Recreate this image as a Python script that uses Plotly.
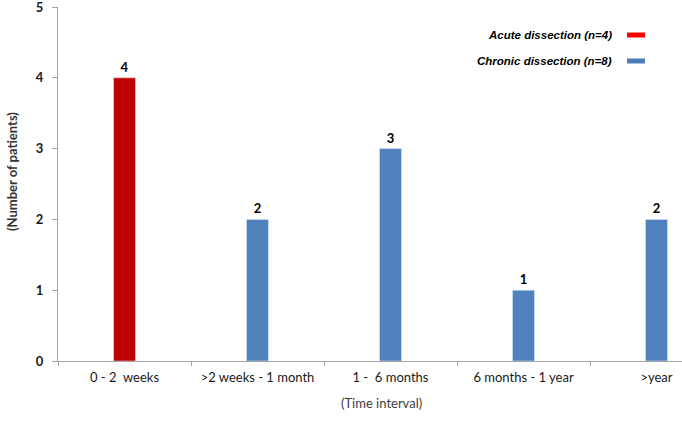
import plotly.graph_objects as go

categories = ["0 - 2  weeks", ">2 weeks - 1 month", "1 -  6 months", "6 months - 1 year", ">year"]
acute_x = ["0 - 2  weeks"]
acute_y = [4]
chronic_x = [">2 weeks - 1 month", "1 -  6 months", "6 months - 1 year", ">year"]
chronic_y = [2, 3, 1, 2]
legend_labels = ["Acute dissection (n=4)", "Chronic dissection (n=8)"]

W, H = 682, 422
ML, MR, MT, MB = 58, 0, 7, 61
pw = W - ML - MR
ph = H - MT - MB

BAR_RED = "#C00000"
BAR_BLUE = "#4F81BD"
LEG_RED = "#FF0000"
LEG_BLUE = "#4A7EBB"
FONT = "Lato, Open Sans, sans-serif"
TICK_FONT = dict(family=FONT, size=13, color="#1a1a1a")

fig = go.Figure()
for xs, ys, name, col in [(acute_x, acute_y, legend_labels[0], BAR_RED),
                          (chronic_x, chronic_y, legend_labels[1], BAR_BLUE)]:
    fig.add_trace(go.Bar(x=xs, y=ys, name=name, marker_color=col,
                         width=0.165, text=["<b>%d</b>" % v for v in ys], textposition="outside",
                         textfont=dict(family=FONT, size=13, color="#000000"),
                         cliponaxis=False))

# legend drawn manually: text on the left, swatch on the right
leg_rows = [(legend_labels[0], LEG_RED, 35), (legend_labels[1], LEG_BLUE, 61)]
annotations = []
shapes = []
for label, col, ypix in leg_rows:
    yp = 1 - (ypix - MT) / ph
    annotations.append(dict(xref="paper", yref="paper", x=(614 - ML) / pw, y=yp,
                            xanchor="right", yanchor="middle", showarrow=False,
                            text="<b><i>" + label + "</i></b>",
                            font=dict(family="Liberation Sans, Arial, sans-serif", size=11.5, color="#000000")))
    shapes.append(dict(type="rect", xref="paper", yref="paper",
                       x0=(627 - ML) / pw, x1=(645 - ML) / pw,
                       y0=yp - 2.5 / ph, y1=yp + 2.5 / ph,
                       fillcolor=col, line=dict(width=0)))

annotations.append(dict(xref="paper", yref="paper", x=(381 - ML) / pw, y=-(403 - MT - ph) / ph,
                        xanchor="center", yanchor="middle", showarrow=False,
                        text="(Time interval)",
                        font=dict(family=FONT, size=13, color="#404040")))
annotations.append(dict(xref="paper", yref="paper", x=(12 - ML) / pw, y=1 - (172 - MT) / ph,
                        xanchor="center", yanchor="middle", showarrow=False, textangle=-90,
                        text="(Number of patients)",
                        font=dict(family=FONT, size=13, color="#333333", weight="bold")))

fig.update_layout(
    width=W, height=H,
    margin=dict(l=ML, r=MR, t=MT, b=MB, autoexpand=False),
    paper_bgcolor="white", plot_bgcolor="white",
    barmode="overlay", showlegend=False,
    annotations=annotations, shapes=shapes,
    xaxis=dict(type="category", categoryorder="array", categoryarray=categories,
               range=[-0.5, -0.5 + pw / 133.0], automargin=False,
               ticklabeloverflow="allow", ticklabelstandoff=4,
               showline=True, linecolor="#a6a6a6", linewidth=1,
               ticks="outside", tickson="boundaries", ticklen=4, tickcolor="#a6a6a6",
               showgrid=False, tickfont=TICK_FONT, zeroline=False),
    yaxis=dict(range=[0, 5], dtick=1, showline=True, linecolor="#a6a6a6", linewidth=1,
               automargin=False, ticklabeloverflow="allow", ticklabelstandoff=6,
               ticks="outside", ticklen=5, tickcolor="#a6a6a6", showgrid=False, zeroline=False,
               tickfont=dict(family=FONT, size=13, color="#1a1a1a", weight="bold")),
)

fig.write_html("out.html", config={"displayModeBar": False},
               post_script="document.body.style.margin='0';")
